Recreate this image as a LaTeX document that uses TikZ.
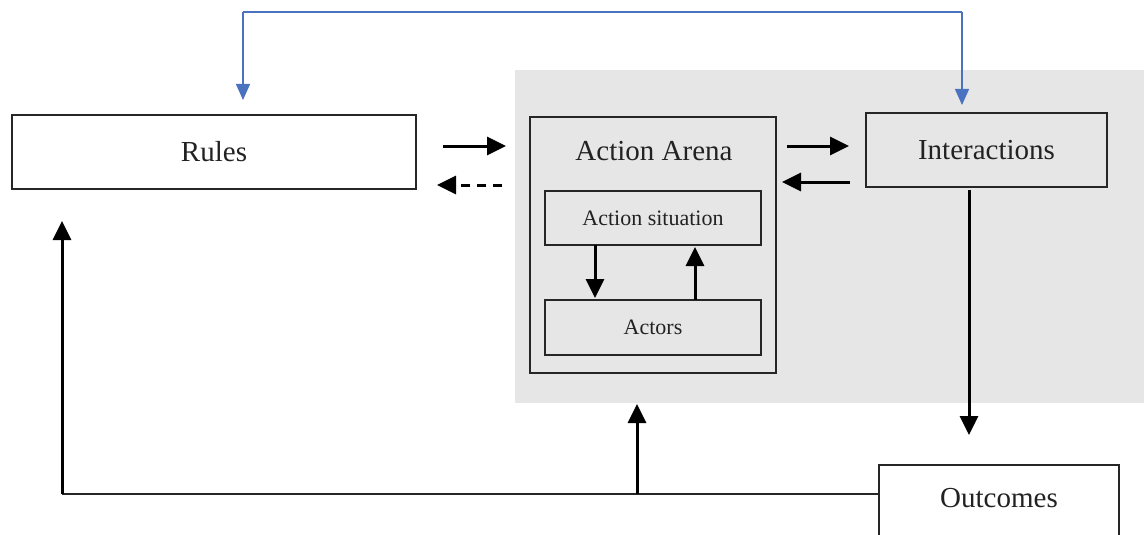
\documentclass[tikz,border=0pt]{standalone}
\usepackage{fontspec}
\setmainfont{Liberation Serif}
\usetikzlibrary{arrows.meta}
\definecolor{bgray}{HTML}{E6E6E6}
\definecolor{lineblue}{HTML}{4A72C0}
\definecolor{txt}{HTML}{222222}
\tikzset{
  bigbox/.style={draw=black!85, line width=2pt, rectangle, inner sep=0pt, text=txt,
    font=\fontsize{29}{34}\selectfont},
  smallbox/.style={draw=black!85, line width=2pt, rectangle, inner sep=0pt, text=txt,
    font=\fontsize{22}{26}\selectfont, fill=bgray},
  arr/.style={line width=3pt, -{Triangle[length=19pt,width=18pt]}},
  darr/.style={arr, dash pattern=on 9pt off 7pt},
  barr/.style={draw=lineblue, line width=1.4pt, -{Triangle[length=16pt,width=14pt]}}
}
\begin{document}
\begin{tikzpicture}[x=1pt,y=-1pt]
\useasboundingbox (0,0) rectangle (1144,535);
\fill[bgray] (515,70) rectangle (1144,403);
% boxes
\node[bigbox, fill=white, minimum width=404pt, minimum height=74pt] (rules) at (214,152) {Rules};
\node[bigbox, fill=bgray, minimum width=246pt, minimum height=256pt] (arena) at (653,245) {};
\node[text=txt, font=\fontsize{29}{34}\selectfont] (arenatitle) at (654,151) {Action Arena};
\node[smallbox, minimum width=216pt, minimum height=54pt] (sit) at (653,218) {Action situation};
\node[smallbox, minimum width=216pt, minimum height=55pt] (actors) at (653,327.5) {Actors};
\node[bigbox, fill=bgray, minimum width=241pt, minimum height=74pt] (inter) at (986.5,150) {Interactions};
\node[bigbox, fill=white, minimum width=240pt, minimum height=74pt] (out) at (999,502) {};
\node[text=txt, font=\fontsize{29}{34}\selectfont] (outtext) at (999,498) {Outcomes};
% coordinates
\coordinate (a1) at (443,146);
\coordinate (a2) at (506,146);
\coordinate (d1) at (502,185);
\coordinate (d2) at (437,185);
\coordinate (b1) at (787,146);
\coordinate (b2) at (849,146);
\coordinate (c1) at (850,182);
\coordinate (c2) at (782,182);
\coordinate (i1) at (969,190);
\coordinate (i2) at (969,435);
\coordinate (s1) at (595,245);
\coordinate (s2) at (595,298);
\coordinate (u1) at (695,300);
\coordinate (u2) at (695,247);
\coordinate (o1) at (879,494);
\coordinate (corner) at (62,494);
\coordinate (r1) at (62,221);
\coordinate (m1) at (637,494);
\coordinate (m2) at (637,404);
\coordinate (bl) at (243,100);
\coordinate (br) at (962,105);
% arrows
\draw[arr] (a1) -- (a2);
\draw[darr] (d1) -- (d2);
\draw[arr] (b1) -- (b2);
\draw[arr] (c1) -- (c2);
\draw[arr] (i1) -- (i2);
\draw[arr] (s1) -- (s2);
\draw[arr] (u1) -- (u2);
\draw[line width=2pt, black!85] (o1) -- (corner);
\draw[arr] (corner) -- (r1);
\draw[arr] (m1) -- (m2);
\draw[barr] (br |- 0,12) -- (br);
\draw[barr] (bl |- 0,12) -- (bl);
\draw[draw=lineblue, line width=1.4pt] (bl |- 0,12) -- (br |- 0,12);
\end{tikzpicture}
\end{document}
